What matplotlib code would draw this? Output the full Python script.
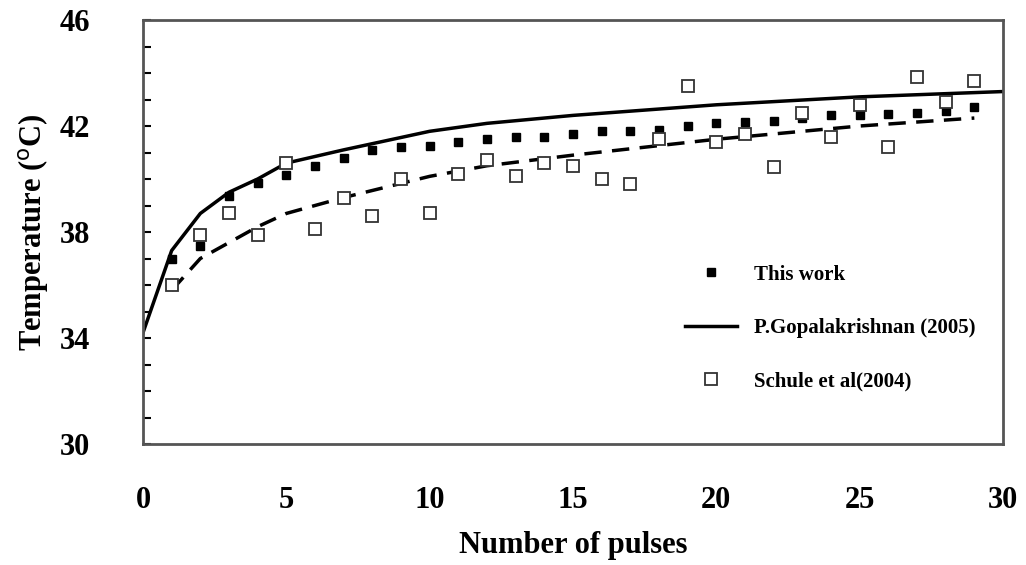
import matplotlib.pyplot as plt
import numpy as np

plt.rcParams['font.family'] = ['Liberation Serif']

pulses = list(range(1, 30))
this_work = [36.98, 37.47, 39.36, 39.85, 40.15, 40.5, 40.8, 41.1, 41.2, 41.25,
             41.4, 41.5, 41.6, 41.6, 41.7, 41.8, 41.8, 41.85, 42.0, 42.1,
             42.15, 42.2, 42.3, 42.4, 42.4, 42.45, 42.5, 42.55, 42.7]
schule = [36.0, 37.9, 38.7, 37.9, 40.6, 38.1, 39.3, 38.6, 40.0, 38.7,
          40.2, 40.7, 40.1, 40.6, 40.5, 40.0, 39.8, 41.5, 43.5, 41.4,
          41.7, 40.45, 42.5, 41.6, 42.8, 41.2, 43.85, 42.9, 43.7]
gopal_x = [0, 1, 2, 3, 4, 5, 7, 10, 12, 15, 20, 25, 30]
gopal_y = [34.2, 37.3, 38.7, 39.5, 40.0, 40.6, 41.1, 41.8, 42.1, 42.4, 42.8, 43.1, 43.3]
dash_x = [1, 2, 3, 4, 5, 7, 10, 12, 15, 20, 25, 29]
dash_y = [35.8, 37.0, 37.6, 38.2, 38.7, 39.3, 40.1, 40.5, 40.9, 41.5, 42.0, 42.3]

fig = plt.figure(figsize=(10.26, 5.65), dpi=100)
ax = fig.add_axes([143/1026, 1-444/565, 860/1026, 424/565])

ax.plot(gopal_x, gopal_y, 'k-', lw=2.5, label='P.Gopalakrishnan (2005)')
ax.plot(dash_x, dash_y, 'k--', lw=2.5, dashes=(5, 3))
ax.plot(pulses, this_work, 'ks', ms=6, ls='none', label='This work')
ax.plot(pulses, schule, 's', mfc='white', mec='#333333', mew=1.3, ms=9, ls='none',
        label='Schule et al(2004)')

ax.set_xlim(0, 30)
ax.set_ylim(30, 46)
ax.set_xticks(range(0, 31, 5))
ax.set_yticks(range(30, 47, 4))
ax.set_yticks(range(30, 47, 1), minor=True)
ax.tick_params(axis='y', which='both', direction='in', length=6, width=1.5)
ax.tick_params(axis='x', length=0, pad=30)
ax.tick_params(axis='y', pad=38)
ax.tick_params(labelsize=22)
for lab in ax.get_xticklabels() + ax.get_yticklabels():
    lab.set_fontweight('bold')
for s in ax.spines.values():
    s.set_linewidth(2)
    s.set_color('#555555')

ax.set_xlabel('Number of pulses', fontsize=22, fontweight='bold', labelpad=12)
ax.set_ylabel('Temperature ($^{\\rm o}$C)', fontsize=22, fontweight='bold', labelpad=6)

h, l = ax.get_legend_handles_labels()
ax.legend([h[1], h[0], h[2]], [l[1], l[0], l[2]], loc='lower right',
          bbox_to_anchor=(0.99, 0.08), frameon=False, prop={'weight': 'bold', 'size': 15},
          handlelength=2.5, labelspacing=1.6)

fig.savefig('out.png', dpi=100)
